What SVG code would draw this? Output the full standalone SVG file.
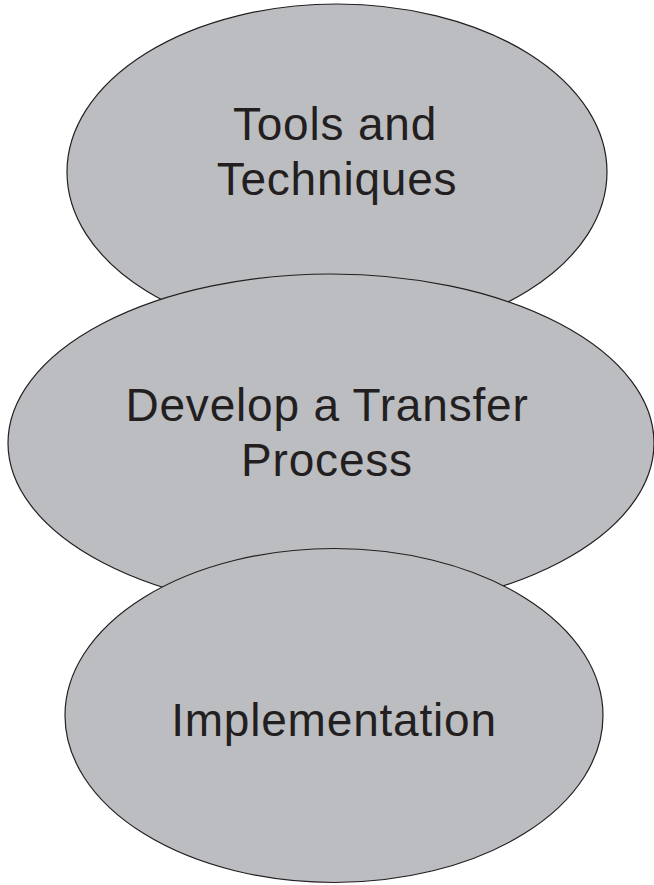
<svg xmlns="http://www.w3.org/2000/svg" width="654" height="885" viewBox="0 0 654 885">
<style>
.node{fill:#bcbdc0;stroke:#231f20;stroke-width:1.2}
.lbl{font-family:"Liberation Sans",Arial,sans-serif;font-size:46px;letter-spacing:0.8px;fill:#231f20;text-anchor:middle}
</style>
<rect width="654" height="885" fill="#ffffff"/>
<g id="connectors"></g>
<g id="node-tools">
<ellipse class="node" cx="337" cy="172" rx="270" ry="168"/>
<text class="lbl" x="335" y="140">Tools and</text>
<text class="lbl" x="337" y="195">Techniques</text>
</g>
<g id="node-develop">
<ellipse class="node" cx="331" cy="443" rx="323" ry="169"/>
<text class="lbl" x="327" y="421">Develop a Transfer</text>
<text class="lbl" x="327" y="476">Process</text>
</g>
<g id="node-implementation">
<ellipse class="node" cx="334" cy="715.5" rx="269" ry="167"/>
<text class="lbl" x="334" y="736">Implementation</text>
</g>
</svg>
